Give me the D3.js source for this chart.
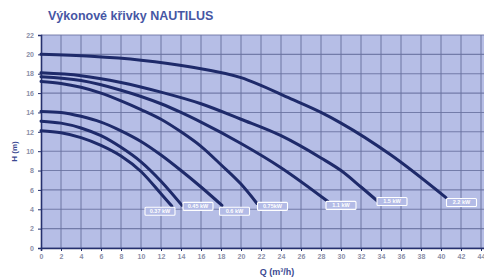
<!DOCTYPE html>
<html><head><meta charset="utf-8">
<script src="https://cdn.jsdelivr.net/npm/d3@7"></script>
<style>
html,body{margin:0;padding:0;background:#fff;}
svg{display:block;}
</style></head>
<body>
<svg id="c" width="484" height="279"></svg>
<script>
// ---- data ----
const title = "Výkonové křivky NAUTILUS";
const xTitle = "Q (m³/h)";
const yTitle = "H (m)";
const xTicks = [0,2,4,6,8,10,12,14,16,18,20,22,24,26,28,30,32,34,36,38,40,42,44];
const yTicks = [0,2,4,6,8,10,12,14,16,18,20,22];
const powers = ["0.37 kW","0.45 kW","0.6 kW","0.75kW","1.1 kW","1.5 kW","2.2 kW"];
const curve037 = [[0,12.1],[2,11.9],[4,11.4],[6,10.6],[8,9.5],[10,7.9],[12,5.6],[13.1,4.3]];
const curve045 = [[0,13.1],[2,12.9],[4,12.4],[6,11.6],[8,10.4],[10,8.9],[12,6.9],[14.1,4.4]];
const curve06  = [[0,14.1],[2,14.0],[4,13.6],[6,13.0],[8,12.1],[10,11.0],[12,9.6],[14,8.0],[16,6.3],[18.1,4.4]];
const curve075 = [[0,17.2],[2,17.0],[4,16.6],[6,16.0],[8,15.2],[10,14.3],[12,13.3],[14,12.0],[16,10.5],[18,8.6],[20,6.6],[21.6,4.6]];
const curve11  = [[0,17.7],[4,17.3],[8,16.3],[12,14.9],[14,14.0],[16,13.0],[20,10.8],[24,8.3],[28.7,4.8]];
const curve15  = [[0,18.1],[4,17.8],[8,17.1],[12,16.1],[16,14.9],[20,13.3],[24,11.6],[28,9.3],[30,8.0],[32,6.3],[33.7,4.8]];
const curve22  = [[0,20.0],[5,19.8],[10,19.4],[15,18.7],[20,17.6],[25,15.4],[28,14.0],[30,12.9],[35,9.6],[40.5,5.2]];
const curves = [curve037,curve045,curve06,curve075,curve11,curve15,curve22];
// label anchor (data units, Q / H)
const labelQ = [11.9,15.7,19.35,23.15,30.0,35.1,42.05];
const labelH = [3.8,4.3,3.8,4.3,4.4,4.8,4.7];

// ---- drawing ----
const svg = d3.select("#c");
const x = d3.scaleLinear().domain([0,44.5]).range([41,486]);
const y = d3.scaleLinear().domain([0,22]).range([248,35]);

// plot background
svg.append("rect").attr("x",x(0)).attr("y",y(22)).attr("width",x(44.5)-x(0)).attr("height",y(0)-y(22))
  .attr("fill","#b6bee6");

// grid
svg.append("g").selectAll("line").data(xTicks.slice(1)).join("line")
  .attr("x1",d=>x(d)).attr("x2",d=>x(d)).attr("y1",y(22)).attr("y2",y(0))
  .attr("stroke","#68719f").attr("stroke-width",1.1).attr("opacity",0.85);
svg.append("g").selectAll("line").data(yTicks).join("line")
  .attr("x1",x(0)).attr("x2",x(44.5)).attr("y1",d=>y(d)).attr("y2",d=>y(d))
  .attr("stroke","#68719f").attr("stroke-width",1.1).attr("opacity",0.85);

// axes
const yAxis = d3.axisLeft(y).tickValues(yTicks).tickSize(3).tickPadding(4);
const gy = svg.append("g").attr("transform",`translate(${x(0)},0)`).call(yAxis);
const xAxis = d3.axisBottom(x).tickValues(xTicks).tickSize(3).tickPadding(3);
const gx = svg.append("g").attr("transform",`translate(0,${y(0)})`).call(xAxis);
[gx,gy].forEach(g=>{
  g.select(".domain").attr("stroke","#25306e").attr("stroke-width",1.6);
  g.selectAll(".tick line").attr("stroke","#25306e");
  g.selectAll("text").attr("fill","#8a8ea6").attr("font-family","Liberation Sans, Arial, sans-serif")
   .attr("font-size",7).attr("font-weight","bold");
});

// curves
const line = d3.line().x(d=>x(d[0])).y(d=>y(d[1])).curve(d3.curveMonotoneX);
svg.append("g").selectAll("path").data(curves).join("path")
  .attr("d",line).attr("fill","none").attr("stroke","#1e2a6a").attr("stroke-width",3)
  .attr("stroke-linecap","round");

// labels
const lg = svg.append("g").selectAll("g").data(powers).join("g")
  .attr("transform",(d,i)=>`translate(${x(labelQ[i])},${y(labelH[i])})`);
lg.append("rect").attr("x",-15).attr("y",-4).attr("width",30).attr("height",8)
  .attr("fill","#b3bbe6").attr("stroke","#ffffff").attr("stroke-width",1.1).attr("rx",1);
lg.append("text").text(d=>d).attr("text-anchor","middle").attr("dy","0.35em")
  .attr("font-family","Liberation Sans, Arial, sans-serif").attr("font-size",5.5)
  .attr("font-weight","bold").attr("fill","#ffffff");

// titles
svg.append("text").text(title).attr("x",48).attr("y",20)
  .attr("font-family","Liberation Sans, Arial, sans-serif").attr("font-size",12.5)
  .attr("font-weight","bold").attr("fill","#4656a4");
svg.append("text").text(yTitle).attr("transform",`translate(17,${(y(0)+y(22))/2+10}) rotate(-90)`)
  .attr("text-anchor","middle").attr("font-family","Liberation Sans, Arial, sans-serif")
  .attr("font-size",8).attr("font-weight","bold").attr("fill","#3c4a92");
svg.append("text").text(xTitle).attr("x",277).attr("y",275).attr("text-anchor","middle")
  .attr("font-family","Liberation Sans, Arial, sans-serif").attr("font-size",9)
  .attr("font-weight","bold").attr("fill","#3c4a92");
</script>
</body></html>
